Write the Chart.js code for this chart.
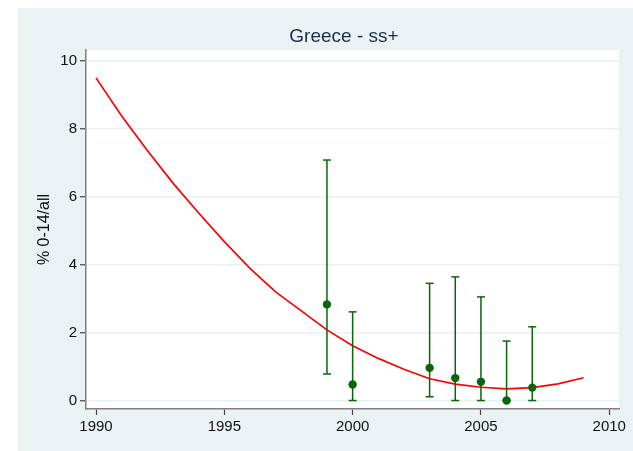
<!DOCTYPE html>
<html>
<head>
<meta charset="utf-8">
<script src="https://cdn.jsdelivr.net/npm/chart.js@4.4.0/dist/chart.umd.min.js"></script>
<style>
  body { margin: 0; background: #fff; }
  #panel { position: absolute; left: 18px; top: 8px; width: 615px; height: 443px; background: #eaf2f3; }
  #title { position: absolute; left: 176px; top: 18px; width: 300px; text-align: center;
           font: 19px/19px 'Liberation Sans', Arial, sans-serif; color: #1e2b4f; }
  canvas { position: absolute; left: 0; top: 0; }
</style>
</head>
<body>
<div id="panel">
  <canvas id="chart" width="615" height="443"></canvas>
  <div id="title">Greece - ss+</div>
</div>
<script>
// fitted trend, one value per year
var years = [1990, 1991, 1992, 1993, 1994, 1995, 1996, 1997, 1998, 1999,
             2000, 2001, 2002, 2003, 2004, 2005, 2006, 2007, 2008, 2009];
var fitted = [9.5, 8.38, 7.36, 6.4, 5.52, 4.68, 3.89, 3.2, 2.64, 2.08,
              1.61, 1.24, 0.92, 0.64, 0.48, 0.39, 0.34, 0.38, 0.49, 0.67];

// observed points with confidence limits
var obsYears = [1999, 2000, 2003, 2004, 2005, 2006, 2007];
var obsValues = [2.83, 0.47, 0.96, 0.66, 0.55, 0, 0.38];
var ciLow = [0.78, 0, 0.11, 0, 0, 0, 0];
var ciHigh = [7.08, 2.61, 3.45, 3.64, 3.05, 1.75, 2.17];

var xTicks = [1990, 1995, 2000, 2005, 2010];
var yTicks = [0, 2, 4, 6, 8, 10];

var green = '#0a640a';
var fontFam = "'Liberation Sans', Arial, sans-serif";

// white plot region
var plotBg = {
  id: 'plotBg',
  beforeDraw: function (chart) {
    var a = chart.chartArea;
    var ctx = chart.ctx;
    ctx.save();
    ctx.fillStyle = '#ffffff';
    ctx.fillRect(a.left, a.top, a.right - a.left, a.bottom - a.top);
    ctx.restore();
  }
};

var datasets = [];

datasets.push({
  data: years.map(function (y, i) { return { x: y, y: fitted[i] }; }),
  showLine: true,
  borderColor: '#ff0000',
  borderWidth: 1.7,
  pointRadius: 0,
  order: 3
});

// error bars: one little two-point line each, caps are 'line' point styles
obsYears.forEach(function (yr, i) {
  datasets.push({
    data: [{ x: yr, y: ciLow[i] }, { x: yr, y: ciHigh[i] }],
    showLine: true,
    borderColor: green,
    borderWidth: 1.5,
    pointStyle: 'line',
    pointRadius: 4,
    pointBorderWidth: 1.5,
    pointBorderColor: green,
    order: 2
  });
});

datasets.push({
  data: obsYears.map(function (y, i) { return { x: y, y: obsValues[i] }; }),
  backgroundColor: green,
  borderColor: green,
  pointRadius: 4.2,
  borderWidth: 0,
  order: 1
});

new Chart(document.getElementById('chart'), {
  type: 'scatter',
  data: { datasets: datasets },
  plugins: [plotBg],
  options: {
    responsive: false,
    animation: false,
    layout: { padding: { left: 0, right: 14, top: 42, bottom: 0 } },
    plugins: {
      legend: { display: false },
      tooltip: { enabled: false },
      title: { display: false }
    },
    scales: {
      x: {
        type: 'linear',
        min: 1989.61,
        max: 2010.38,
        afterBuildTicks: function (s) { s.ticks = xTicks.map(function (v) { return { value: v }; }); },
        afterFit: function (s) { s.height = 42; },
        ticks: {
          color: '#111',
          font: { family: fontFam, size: 15 },
          padding: 3,
          maxRotation: 0,
          autoSkip: false,
          callback: function (v) { return String(v); }
        },
        grid: { drawOnChartArea: false, drawTicks: true, tickLength: 6, tickColor: '#444', tickWidth: 1.2 },
        border: { color: '#808080', width: 1.5 }
      },
      y: {
        min: -0.25,
        max: 10.32,
        afterBuildTicks: function (s) { s.ticks = yTicks.map(function (v) { return { value: v }; }); },
        afterFit: function (s) { s.width = 68; },
        ticks: {
          color: '#111',
          font: { family: fontFam, size: 15 },
          padding: 3,
          callback: function (v) { return String(v); }
        },
        grid: { color: '#e8f0f2', lineWidth: 1.5, drawTicks: true, tickLength: 6, tickColor: '#444', tickWidth: 1.2 },
        border: { color: '#808080', width: 1.5 },
        title: {
          display: true,
          text: '% 0-14/all',
          color: '#111',
          font: { family: fontFam, size: 16 },
          padding: { top: 17, bottom: 0 }
        }
      }
    }
  }
});
</script>
</body>
</html>
